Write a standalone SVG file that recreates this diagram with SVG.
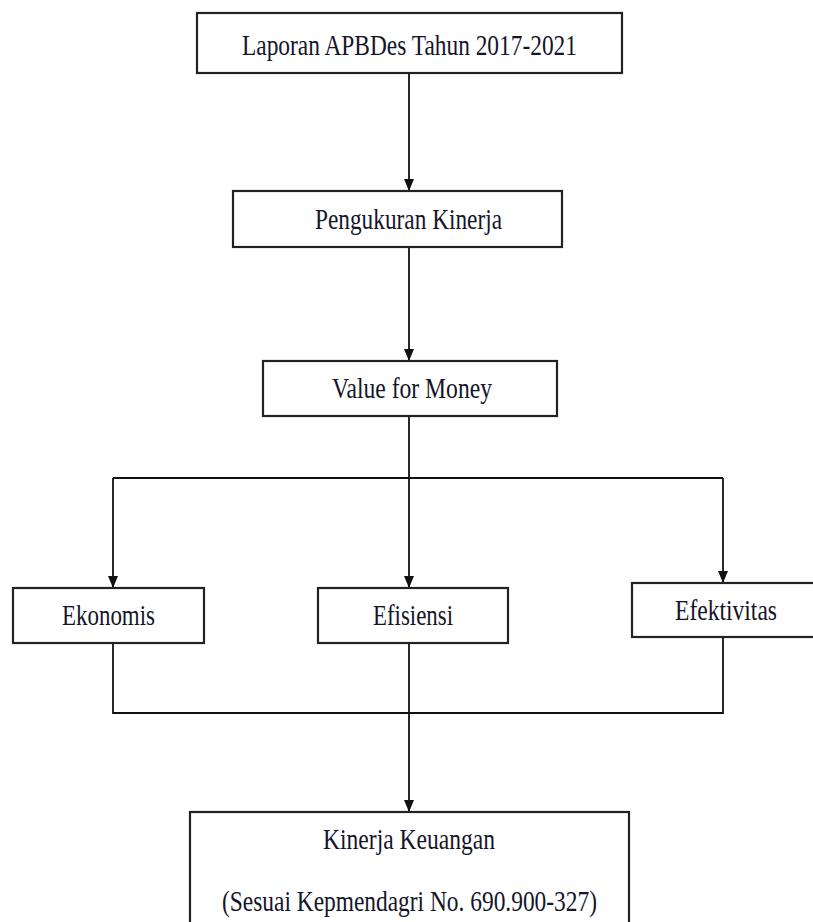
<svg xmlns="http://www.w3.org/2000/svg" width="813" height="922" viewBox="0 0 813 922">
<defs>
<style>
.box{fill:#fff;stroke:#222;stroke-width:2.2}
.t{font-family:"Liberation Serif","Times New Roman",serif;font-size:30px;fill:#15152a;text-anchor:middle}
.c{fill:none;stroke:#111;stroke-width:1.8}
</style>
<marker id="ah" markerWidth="12" markerHeight="12" refX="11" refY="5" orient="auto" markerUnits="userSpaceOnUse">
<path d="M0,0 L12,5 L0,10 Z" fill="#111"/>
</marker>
</defs>
<rect width="813" height="922" fill="#fff"/>
<g id="connectors">
<path class="c" d="M409,73 V190" marker-end="url(#ah)"/>
<path class="c" d="M409,247 V360" marker-end="url(#ah)"/>
<path class="c" d="M409,416 V478"/>
<path class="c" d="M113,478 H723"/>
<path class="c" d="M113,478 V587" marker-end="url(#ah)"/>
<path class="c" d="M409,478 V587" marker-end="url(#ah)"/>
<path class="c" d="M723,478 V582" marker-end="url(#ah)"/>
<path class="c" d="M113,643 V713 H723 V637"/>
<path class="c" d="M409,643 V811" marker-end="url(#ah)"/>
</g>
<g id="laporan">
<rect class="box" x="197" y="13" width="425" height="60"/>
<text class="t" x="409.5" y="55" textLength="335" lengthAdjust="spacingAndGlyphs">Laporan APBDes Tahun 2017-2021</text>
</g>
<g id="pengukuran">
<rect class="box" x="233" y="191" width="329" height="56"/>
<text class="t" x="408.5" y="229" textLength="187" lengthAdjust="spacingAndGlyphs">Pengukuran Kinerja</text>
</g>
<g id="vfm">
<rect class="box" x="263" y="361" width="294" height="55"/>
<text class="t" x="412" y="398" textLength="160" lengthAdjust="spacingAndGlyphs">Value for Money</text>
</g>
<g id="ekonomis">
<rect class="box" x="13" y="588" width="191" height="55"/>
<text class="t" x="108.5" y="625" textLength="93" lengthAdjust="spacingAndGlyphs">Ekonomis</text>
</g>
<g id="efisiensi">
<rect class="box" x="318" y="588" width="190" height="55"/>
<text class="t" x="413" y="625" textLength="80" lengthAdjust="spacingAndGlyphs">Efisiensi</text>
</g>
<g id="efektivitas">
<rect class="box" x="632" y="583" width="200" height="54"/>
<text class="t" x="726" y="620" textLength="102" lengthAdjust="spacingAndGlyphs">Efektivitas</text>
</g>
<g id="kinerja">
<rect class="box" x="190" y="812" width="439" height="130"/>
<text class="t" x="409" y="849" textLength="172" lengthAdjust="spacingAndGlyphs">Kinerja Keuangan</text>
<text class="t" x="409.5" y="911" textLength="375" lengthAdjust="spacingAndGlyphs">(Sesuai Kepmendagri No. 690.900-327)</text>
</g>
</svg>
